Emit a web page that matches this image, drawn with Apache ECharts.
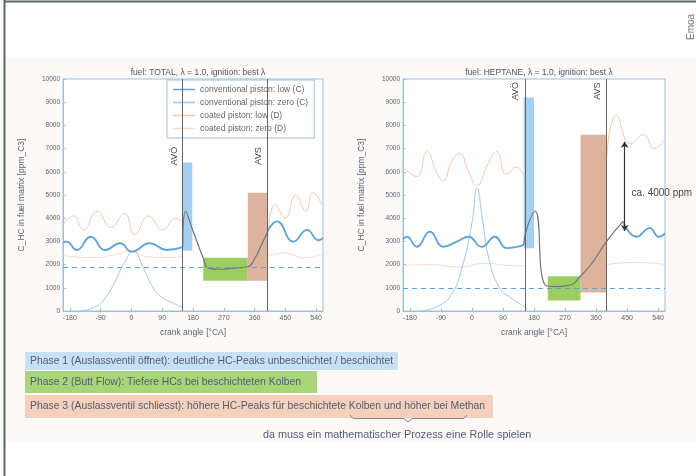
<!DOCTYPE html>
<html>
<head>
<meta charset="utf-8" />
<title>HC Phasen</title>
<script src="https://cdn.jsdelivr.net/npm/echarts@6/dist/echarts.min.js"></script>
<style>
  html, body { margin: 0; padding: 0; background: #fff; }
  #main { width: 696px; height: 476px; }
</style>
</head>
<body>
<div id="main"></div>
<script type="text/javascript">
// axis ticks (crank angle)
var X_TICKS = [-180, -90, 0, 90, 180, 270, 360, 450, 540];
var LEGEND = ["conventional piston: low (C)", "conventional piston: zero (C)", "coated piston: low (D)", "coated piston: zero (D)"];
var TITLES = ["fuel: TOTAL, λ = 1.0, ignition: best λ", "fuel: HEPTANE, λ = 1.0, ignition: best λ"];

// left chart
var L_LOW_A1 = [-200, -189, -160, -119, -77, -33, 1, 54, 103, 150];
var L_LOW_V1 = [2950, 2990, 2630, 3200, 2630, 2920, 2560, 2920, 2630, 2750];
var L_LOW_A2 = [398, 425, 474, 513, 547, 560];
var L_LOW_V2 = [3420, 3860, 2990, 3500, 3050, 3150];
var L_TR_A = [150, 158, 180, 210, 225, 260, 300, 340, 360, 380, 398];
var L_TR_V = [2750, 4300, 3450, 2280, 1850, 1800, 1850, 1900, 2250, 2850, 3420];
var L_ZERO_A = [-150, -110, -80, -50, -20, 6, 35, 64, 93, 123, 150];
var L_ZERO_V = [0, 150, 500, 1200, 2100, 2560, 1840, 980, 550, 330, 150];
var L_COAT_A1 = [-200, -170, -140, -100, -60, -20, 10, 50, 90, 130, 150];
var L_COAT_V1 = [3700, 4100, 3500, 4300, 3600, 4200, 3300, 4100, 3500, 4000, 3800];
var L_COAT_A2 = [398, 420, 450, 480, 510, 530, 560];
var L_COAT_V2 = [3000, 4600, 4000, 5000, 4300, 5100, 4500];
var L_CZ_A1 = [-200, -120, -40, 0, 40, 120, 150];
var L_CZ_V1 = [2400, 2300, 2450, 2600, 2350, 2300, 2350];
var L_CZ_A2 = [398, 450, 500, 560];
var L_CZ_V2 = [2400, 2500, 2300, 2450];
var L_BASE = 1900;
var L_VLINES = [150, 398];
var L_PHASES = [[150, 178, 2600, 6400], [210, 340, 1300, 2300], [340, 398, 1300, 5100]];

// right chart
var R_LOW_A1 = [-200, -189, -160, -122, -83, -44, -10, 28, 67, 100, 150];
var R_LOW_V1 = [3100, 3200, 2770, 3420, 2770, 2990, 3200, 2770, 3200, 2710, 2850];
var R_LOW_A2 = [438, 477, 516, 542, 560];
var R_LOW_V2 = [3860, 3200, 3570, 3200, 3350];
var R_TR_A = [150, 160, 183, 212, 240, 280, 318, 350, 390, 438];
var R_TR_V = [2850, 3600, 4300, 1120, 1050, 1100, 1550, 2100, 2990, 3860];
var R_ZERO_A = [-150, -100, -60, -30, 0, 15, 30, 50, 80, 110, 140, 160];
var R_ZERO_V = [0, 200, 700, 1800, 3800, 5300, 4000, 2200, 1000, 600, 300, 100];
var R_COAT_A1 = [-200, -160, -131, -100, -83, -60, -35, -10, 14, 45, 72, 100, 130, 150];
var R_COAT_V1 = [6200, 5800, 6870, 5900, 5600, 6400, 6800, 6000, 5400, 6300, 6870, 5900, 6200, 5800];
var R_COAT_A2 = [390, 419, 460, 497, 530, 560];
var R_COAT_V2 = [6500, 8450, 7200, 7600, 7000, 7400];
var R_CZ_A1 = [-200, -120, -40, 40, 120, 150];
var R_CZ_V1 = [1950, 2000, 1900, 2050, 1950, 1950];
var R_CZ_A2 = [390, 470, 560];
var R_CZ_V2 = [2000, 2100, 2000];
var R_BASE = 1000;
var R_VLINES = [155, 390];
var R_PHASES = [[150, 180, 2700, 9200], [220, 315, 450, 1500], [315, 390, 800, 7600]];
var R_ARROW = [443, 7300, 3450];

var PHASE_TEXT = [
  "Phase 1 (Auslassventil öffnet): deutliche HC-Peaks unbeschichtet / beschichtet",
  "Phase 2 (Butt Flow): Tiefere HCs bei beschichteten Kolben",
  "Phase 3 (Auslassventil schliesst): höhere HC-Peaks für beschichtete Kolben und höher bei Methan"
];
var NOTE = "da muss ein mathematischer Prozess eine Rolle spielen";

function zip(a, v) {
  var out = [];
  for (var i = 0; i < a.length; i++) out.push([a[i], v[i]]);
  return out;
}

var C_LOW = "#5fa2d6", C_ZERO = "#9cc8ea", C_COAT = "#f3c8b1", C_CZ = "#f7dacb", C_TR = "#6f767f";
var PH_COL = ["rgba(150,200,238,0.85)", "rgba(140,195,70,0.85)", "rgba(214,160,132,0.8)"];

function line(name, gi, a, v, color, width, z) {
  return {
    name: name, type: "line", xAxisIndex: gi, yAxisIndex: gi, smooth: true,
    symbol: "none", data: zip(a, v), z: z || 2,
    lineStyle: { color: color, width: width }, itemStyle: { color: color }
  };
}

function chartSeries(gi, d) {
  var s = [];
  s.push(line(LEGEND[2], gi, d.coatA1, d.coatV1, C_COAT, 1));
  s.push(line(LEGEND[2], gi, d.coatA2, d.coatV2, C_COAT, 1));
  s.push(line(LEGEND[3], gi, d.czA1, d.czV1, C_CZ, 1));
  s.push(line(LEGEND[3], gi, d.czA2, d.czV2, C_CZ, 1));
  var zero = line(LEGEND[1], gi, d.zeroA, d.zeroV, C_ZERO, 1);
  zero.markLine = {
    silent: true, symbol: "none", label: { show: false },
    lineStyle: { color: C_LOW, type: [5, 4], width: 1.2 },
    data: [{ yAxis: d.base }]
  };
  s.push(zero);
  var tr = line("transient", gi, d.trA, d.trV, C_TR, 1.2, 4);
  tr.markArea = {
    silent: true,
    data: d.phases.map(function (p, i) {
      return [{ coord: [p[0], p[2]], itemStyle: { color: PH_COL[i] } }, { coord: [p[1], p[3]] }];
    })
  };
  tr.markLine = {
    silent: true, symbol: "none", label: { show: false },
    lineStyle: { color: "#666", type: "solid", width: 1 },
    data: d.vlines.map(function (x) { return { xAxis: x }; })
  };
  tr.markPoint = {
    silent: true, symbol: "circle", symbolSize: 0,
    label: { show: true, color: "#444", fontSize: 9, fontFamily: "Liberation Sans" },
    data: d.marks
  };
  s.push(tr);
  s.push(line(LEGEND[0], gi, d.lowA1, d.lowV1, C_LOW, 1.8, 3));
  var low2 = line(LEGEND[0], gi, d.lowA2, d.lowV2, C_LOW, 1.8, 3);
  if (d.arrow) {
    low2.markLine = {
      silent: true, symbol: ["arrow", "arrow"], symbolSize: 6, label: { show: false },
      lineStyle: { color: "#333", type: "solid", width: 1.2 },
      data: [[{ coord: [d.arrow[0], d.arrow[1]] }, { coord: [d.arrow[0], d.arrow[2]] }]]
    };
  }
  s.push(low2);
  return s;
}

function vlabel(x, y, t) {
  return { coord: [x, y], label: { formatter: t, rotate: 90, position: "inside" } };
}

var series = [].concat(
  chartSeries(0, {
    lowA1: L_LOW_A1, lowV1: L_LOW_V1, lowA2: L_LOW_A2, lowV2: L_LOW_V2,
    trA: L_TR_A, trV: L_TR_V, zeroA: L_ZERO_A, zeroV: L_ZERO_V,
    coatA1: L_COAT_A1, coatV1: L_COAT_V1, coatA2: L_COAT_A2, coatV2: L_COAT_V2,
    czA1: L_CZ_A1, czV1: L_CZ_V1, czA2: L_CZ_A2, czV2: L_CZ_V2,
    base: L_BASE, vlines: L_VLINES, phases: L_PHASES,
    marks: [vlabel(127, 6680, "AVÖ"), vlabel(372, 6680, "AVS")]
  }),
  chartSeries(1, {
    lowA1: R_LOW_A1, lowV1: R_LOW_V1, lowA2: R_LOW_A2, lowV2: R_LOW_V2,
    trA: R_TR_A, trV: R_TR_V, zeroA: R_ZERO_A, zeroV: R_ZERO_V,
    coatA1: R_COAT_A1, coatV1: R_COAT_V1, coatA2: R_COAT_A2, coatV2: R_COAT_V2,
    czA1: R_CZ_A1, czV1: R_CZ_V1, czA2: R_CZ_A2, czV2: R_CZ_V2,
    base: R_BASE, vlines: R_VLINES, phases: R_PHASES, arrow: R_ARROW,
    marks: [vlabel(127, 9480, "AVÖ"), vlabel(364, 9480, "AVS"),
      { coord: [463, 5090], label: { formatter: "ca. 4000 ppm", position: "right", distance: 0, fontSize: 10 } }]
  })
);

var axisCol = "#9cc0df", txtCol = "#5a6270";

function xAxis(gi) {
  return {
    type: "value", gridIndex: gi, min: -200, max: 560,
    name: "crank angle [°CA]", nameLocation: "middle", nameGap: 17,
    nameTextStyle: { fontSize: 8.5, color: txtCol },
    axisLine: { onZero: false, lineStyle: { color: axisCol } },
    axisTick: { inside: true, length: 3, customValues: X_TICKS, lineStyle: { color: axisCol } },
    axisLabel: { customValues: X_TICKS, fontSize: 7, color: txtCol, margin: 4 },
    splitLine: { show: false }
  };
}
function yAxis(gi) {
  return {
    type: "value", gridIndex: gi, min: 0, max: 10000, interval: 1000,
    name: "C_HC in fuel matrix [ppm_C3]", nameLocation: "middle", nameGap: 37,
    nameTextStyle: { fontSize: 8.5, color: txtCol },
    axisLine: { onZero: false, lineStyle: { color: axisCol } },
    axisTick: { inside: true, length: 3, lineStyle: { color: axisCol } },
    axisLabel: { fontSize: 6.5, color: txtCol, margin: 3, formatter: function (v) { return String(v); } },
    splitLine: { show: false }
  };
}

var g = [];
// frame of the page and the tinted picture area
g.push({ type: "rect", z: -10, shape: { x: 5, y: 57, width: 691, height: 386 }, style: { fill: "#fdf9f7" } });
g.push({ type: "line", shape: { x1: 4, y1: 1.5, x2: 696, y2: 1.5 }, style: { stroke: "#55695f", lineWidth: 2 } });
g.push({ type: "line", shape: { x1: 4.5, y1: 0, x2: 4.5, y2: 476 }, style: { stroke: "#55695f", lineWidth: 2 } });
g.push({ type: "text", x: 691, y: 40, rotation: Math.PI / 2,
  style: { text: "Emoa", fontSize: 10, fill: "#777", fontFamily: "Liberation Sans", textVerticalAlign: "middle" } });

var boxes = [[25, 352, 373, 18], [25, 371, 292, 22], [25, 395, 468, 23]];
var boxCol = ["#c6e0f4", "#a9d47a", "#f3cfbc"];
boxes.forEach(function (b, i) {
  g.push({ type: "rect", shape: { x: b[0], y: b[1], width: b[2], height: b[3] }, style: { fill: boxCol[i] } });
  g.push({ type: "text", x: b[0] + 5, y: b[1] + b[3] / 2,
    style: { text: PHASE_TEXT[i], fontSize: 10.4, fill: "#556070", fontFamily: "Liberation Sans", textVerticalAlign: "middle" } });
});
g.push({ type: "polyline", shape: { points: [[350, 415], [353, 418.5], [404, 418.5], [408, 422], [412, 418.5], [464, 418.5], [467, 415]] },
  style: { stroke: "#7e8ca0", lineWidth: 1, fill: null } });
g.push({ type: "text", x: 263, y: 435,
  style: { text: NOTE, fontSize: 10.8, fill: "#4f5f78", fontFamily: "Liberation Sans", textVerticalAlign: "middle" } });

var myChart = echarts.init(document.getElementById("main"));
var option = {
  animation: false,
  backgroundColor: "#fff",
  textStyle: { fontFamily: "Liberation Sans" },
  title: [
    { text: TITLES[0], left: 193, top: 63, textAlign: "center",
      textStyle: { fontSize: 8.5, fontWeight: "normal", color: "#4d5566" } },
    { text: TITLES[1], left: 534, top: 63, textAlign: "center",
      textStyle: { fontSize: 8.5, fontWeight: "normal", color: "#4d5566" } }
  ],
  legend: {
    data: LEGEND, orient: "vertical", left: 167, top: 80, padding: [5, 6],
    icon: "rect", itemWidth: 22, itemHeight: 1.5, itemGap: 4, width: 145,
    backgroundColor: "#fff", borderColor: axisCol, borderWidth: 1,
    textStyle: { fontSize: 8.5, color: "#666" }
  },
  grid: [
    { left: 63, top: 79, width: 260, height: 232, show: true, borderColor: axisCol, borderWidth: 1, backgroundColor: "#fff" },
    { left: 403, top: 79, width: 262, height: 232, show: true, borderColor: axisCol, borderWidth: 1, backgroundColor: "#fff" }
  ],
  xAxis: [xAxis(0), xAxis(1)],
  yAxis: [yAxis(0), yAxis(1)],
  series: series,
  graphic: g
};
myChart.setOption(option);
</script>
</body>
</html>
